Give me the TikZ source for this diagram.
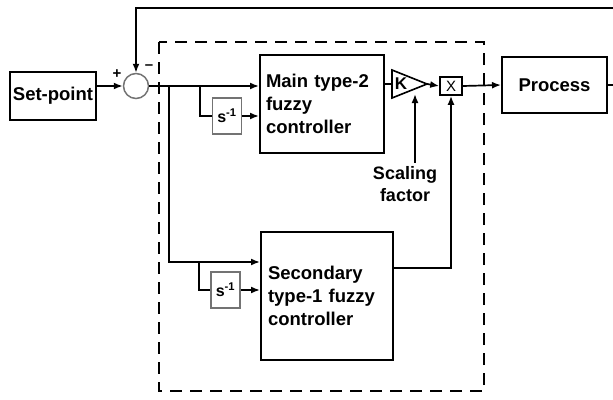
\documentclass[tikz,border=0pt]{standalone}
\usepackage{fontspec}
\setmainfont{Liberation Sans}
\usetikzlibrary{arrows.meta}
\begin{document}
\begin{tikzpicture}[x=1pt,y=-1pt,
  blk/.style={draw,line width=2pt,inner sep=0pt,align=left,font=\bfseries\fontsize{18.5}{23}\selectfont},
  dly/.style={draw=black!55,line width=1.2pt,inner sep=0pt,minimum width=29pt,minimum height=36pt,font=\bfseries\fontsize{16}{16}\selectfont},
  sig/.style={line width=1.7pt,-{Latex[length=9pt,width=7pt]}},
  wire/.style={line width=1.7pt}]
\useasboundingbox (0,0) rectangle (613,399);
\draw[line width=2pt,dash pattern=on 12pt off 8pt] (159,42) rectangle (484,391);
\node[blk,minimum width=86pt,minimum height=48pt,align=center] (sp) at (53,96) {Set-point};
\node[draw=black!55,line width=1.5pt,circle,minimum size=25pt,inner sep=0pt] (sum) at (136,86) {};
\node[font=\bfseries\fontsize{15}{15}\selectfont] (plus) at (117,74) {+};
\node[font=\bfseries\fontsize{15}{15}\selectfont] (minus) at (149,67) {--};
\node[blk,minimum width=124pt,minimum height=98pt,text width=112pt] (main) at (322,104) {Main type-2\\fuzzy\\controller};
\node[blk,minimum width=132pt,minimum height=128pt,text width=118pt] (sec) at (327,296) {Secondary\\type-1 fuzzy\\controller};
\node[blk,minimum width=105pt,minimum height=56pt,align=center] (proc) at (554.5,85) {Process};
\node[dly] (d1) at (227,116) {s\textsuperscript{-1}};
\node[dly] (d2) at (225.5,290) {s\textsuperscript{-1}};
\draw[line width=1.6pt] (392,70) -- (427,84) -- (392,98) -- cycle;
\node[font=\bfseries\fontsize{17}{17}\selectfont] (gain) at (401,84) {K};
\coordinate (gin) at (392,84);
\coordinate (gout) at (427,84);
\coordinate (gbot) at (415,94);
\node[draw,line width=1.6pt,minimum width=22pt,minimum height=18pt,inner sep=0pt,font=\fontsize{15}{15}\selectfont] (mul) at (451,86) {X};
\node[font=\bfseries\fontsize{18}{22}\selectfont,align=center] (sf) at (405,184) {Scaling\\factor};
\coordinate (j1) at (169,86);
\coordinate (j2) at (200,86);
\coordinate (j3) at (199,262);
\coordinate (fb) at (618,8);
\draw[sig] (sp.east |- sum.west) -- (sum.west);
\draw[sig] (sum.east) -- (sum.east -| main.west);
\draw[wire] (j1) -- (j1 |- j3) -- (j3);
\draw[sig] (j1 |- j3) -- (j3 -| sec.west);
\draw[wire] (j2) |- (d1.west);
\draw[sig] (d1.east) -- (d1.east -| main.west);
\draw[wire] (j3) |- (d2.west);
\draw[sig] (d2.east) -- (d2.east -| sec.west);
\draw[wire] (main.east |- gin) -- (gin);
\draw[sig] (gout) -- (mul.west);
\draw[sig] (sf.north -| gbot) -- (gbot);
\draw[sig] (sec.east |- 0,268) -| (mul.south);
\draw[sig] (mul.east) -- (proc.west);
\draw[sig] (proc.east) -| (fb) -| (sum.north);
\end{tikzpicture}
\end{document}
